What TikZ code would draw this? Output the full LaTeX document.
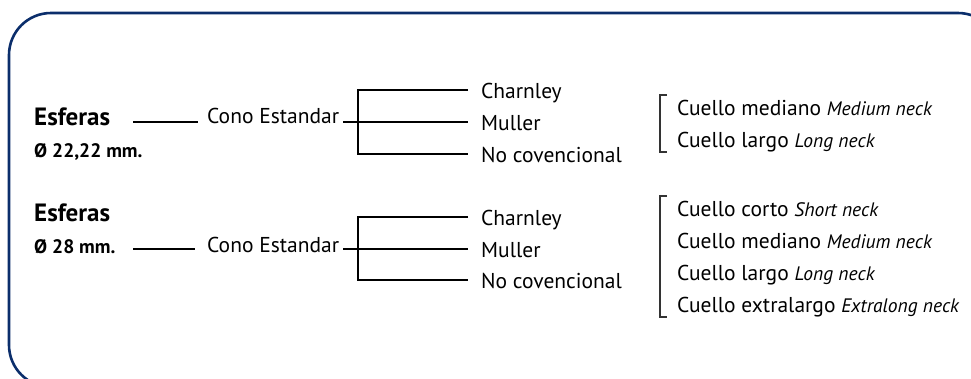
\documentclass[tikz,border=0pt]{standalone}
\usepackage{fontspec}
\setmainfont{PT Sans}
\definecolor{framenavy}{HTML}{0B2E6B}
\definecolor{brackgray}{HTML}{333333}
\newcommand{\engl}[1]{{\fontsize{19.5}{19.5}\selectfont\itshape #1}}
\begin{document}
\begin{tikzpicture}[x=1pt,y=-1pt,
  lbl/.style={anchor=base west, inner sep=0pt, font=\fontsize{21.5}{21.5}\selectfont},
  head/.style={anchor=base west, inner sep=0pt, font=\fontsize{25}{25}\selectfont\bfseries},
  dia/.style={anchor=base west, inner sep=0pt, font=\fontsize{19.5}{19.5}\selectfont\bfseries},
  conn/.style={line width=1.05pt, black},
  brk/.style={line width=1.05pt, brackgray},
  frame/.style={framenavy, line width=2.6pt, rounded corners=42pt}]
\useasboundingbox (0,0) rectangle (971,378);
% outer frame, open on the right and bottom
\begin{scope}
  \clip (0,0) rectangle (971,378);
  \draw[frame] (9,13) rectangle (1000,387);
\end{scope}

% ---- first group: 22,22 mm heads ----
\node[head] (esf1) at (34,125) {Esferas};
\node[dia] (dia1) at (34,157) {Ø 22,22 mm.};
\node[lbl] (cono1) at (207,123) {Cono Estandar};
\coordinate (a1) at (133,122);
\coordinate (b1) at (198,122);
\draw[conn] (a1) -- (b1);

\coordinate (t1) at (343,122);
\coordinate (v1top) at (358,90);
\coordinate (v1bot) at (358,154);
\coordinate (h1top) at (468,90);
\coordinate (h1mid) at (468,122);
\coordinate (h1bot) at (468,154);
\draw[conn] (t1) -- (h1mid);
\draw[conn] (h1top) -- (v1top) -- (v1bot) -- (h1bot);

\node[lbl] (ch1) at (481,98) {Charnley};
\node[lbl] (mu1) at (481,130) {Muller};
\node[lbl] (nc1) at (481,162) {No covencional};

\coordinate (k1a) at (667,95);
\coordinate (k1b) at (667,152);
\draw[brk] (k1a) -- ++(-7,0) |- (k1b);
\node[lbl] (cm1) at (677,115) {Cuello mediano \engl{Medium neck}};
\node[lbl] (cl1) at (677,147) {Cuello largo \engl{Long neck}};

% ---- second group: 28 mm heads ----
\node[head] (esf2) at (34,221) {Esferas};
\node[dia] (dia2) at (34,253) {Ø 28 mm.};
\node[lbl] (cono2) at (207,252) {Cono Estandar};
\coordinate (a2) at (133,249);
\coordinate (b2) at (195,249);
\draw[conn] (a2) -- (b2);

\coordinate (t2) at (343,249);
\coordinate (v2top) at (358,217);
\coordinate (v2bot) at (358,280);
\coordinate (h2top) at (468,217);
\coordinate (h2mid) at (468,249);
\coordinate (h2bot) at (468,280);
\draw[conn] (t2) -- (h2mid);
\draw[conn] (h2top) -- (v2top) -- (v2bot) -- (h2bot);

\node[lbl] (ch2) at (481,225) {Charnley};
\node[lbl] (mu2) at (481,257) {Muller};
\node[lbl] (nc2) at (481,288) {No covencional};

\coordinate (k2a) at (667,196);
\coordinate (k2b) at (667,317);
\draw[brk] (k2a) -- ++(-7,0) |- (k2b);
\node[lbl] (cc2) at (677,216) {Cuello corto \engl{Short neck}};
\node[lbl] (cm2) at (677,248) {Cuello mediano \engl{Medium neck}};
\node[lbl] (cl2) at (677,280) {Cuello largo \engl{Long neck}};
\node[lbl] (ce2) at (677,312) {Cuello extralargo \engl{Extralong neck}};
\end{tikzpicture}
\end{document}
